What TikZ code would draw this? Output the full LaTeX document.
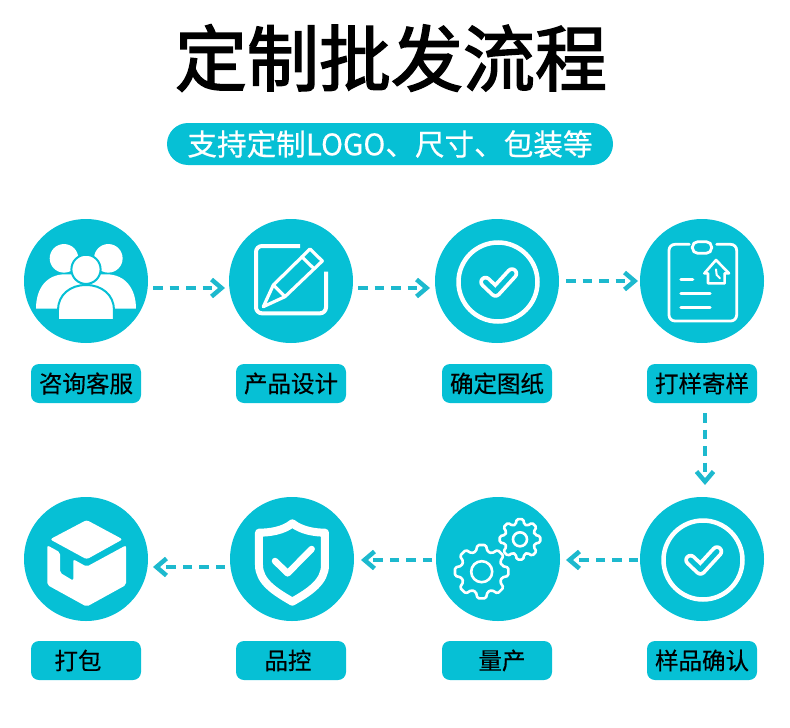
\documentclass[tikz,border=0pt]{standalone}
\usepackage{fontspec}
\usetikzlibrary{arrows.meta}
\setmainfont{Noto Sans CJK SC}
\newfontfamily\titlefont[FakeBold=2.2]{Noto Sans CJK SC}
\newfontfamily\subfont[FakeBold=0.5]{Noto Sans CJK SC}
\newfontfamily\labelfont[FakeBold=0.35]{Noto Sans CJK SC}
\definecolor{brand}{HTML}{06C0D5}
\definecolor{flowc}{HTML}{1DB9CE}
\tikzset{
  circ/.style={circle,fill=brand,minimum size=124pt,inner sep=0pt,outer sep=0pt},
  pill/.style={rectangle,fill=brand,rounded corners=8pt,minimum width=110pt,minimum height=39pt,inner sep=0pt,outer sep=0pt,text=black,font=\labelfont\fontsize{23.5pt}{26pt}\selectfont},
  flow/.style={draw=flowc,line width=3.4pt,dash pattern=on 9.5pt off 7pt,-{Straight Barb[length=10pt,width=17pt,line width=4.5pt,color=flowc]}},
  zoomed/.style={x=0.33333pt,y=-0.33333pt},
  wline/.style={draw=white,line width=#1,line cap=round,line join=round},
}
\newcommand{\ringcheck}{%
  \draw[white,line width=4.5pt] (1,1) circle[radius=39.5pt];
  \draw[wline=12.5pt] (-11.5,1) -- (-1.5,10.5) -- (15,-7.5);
  \draw[brand,line width=5pt,line cap=round,line join=round] (-11.5,1) -- (-1.5,10.5) -- (15,-7.5);
}
\newcommand{\gearpath}[4]{% cx cy root tip
  \draw[wline=2.6pt,rounded corners=1.5pt,fill=none,shift={(#1,#2)}]
    (-16:#3) \foreach \a in {0,45,...,315} { -- ({\a-16}:#3) -- ({\a-9}:#4) -- ({\a+9}:#4) -- ({\a+16}:#3) } -- cycle;
}
\begin{document}
\begin{tikzpicture}[x=1pt,y=-1pt]
\useasboundingbox (0,0) rectangle (790,728);
% title
\node[font=\titlefont\fontsize{72pt}{80pt}\selectfont,text=black,inner sep=0pt] (title) at (391,58) {定制批发流程};
\node[fill=brand,rounded corners=21pt,minimum width=446pt,minimum height=42pt,inner sep=0pt,text=white,font=\subfont\fontsize{29.6pt}{32pt}\selectfont] (sub) at (390,144) {\raisebox{-1.5pt}{支持定制LOGO、尺寸、包装等}};
% circles
\node[circ] (c1) at (86,281) {};
\node[circ] (c2) at (291,281) {};
\node[circ] (c3) at (497,281) {};
\node[circ] (c4) at (702,281) {};
\node[circ] (c5) at (86,559) {};
\node[circ] (c6) at (292,559) {};
\node[circ] (c7) at (498,559) {};
\node[circ] (c8) at (702,559) {};
% pills
\node[pill] (p1) at (86,383.5) {\raisebox{1.5pt}{咨询客服}};
\node[pill] (p2) at (291,383.5) {\raisebox{1.5pt}{产品设计}};
\node[pill] (p3) at (497,383.5) {\raisebox{1.5pt}{确定图纸}};
\node[pill] (p4) at (702,383.5) {\raisebox{1.5pt}{打样寄样}};
\node[pill] (p5) at (86,660.5) {打包\kern16pt};
\node[pill] (p6) at (291,660.5) {品控\kern6pt};
\node[pill] (p7) at (497,660.5) {\kern10pt量产};
\node[pill] (p8) at (702,660.5) {样品确认};
% connectors
\draw[flow,shorten <=5pt,shorten >=4pt] ([yshift=-7pt]c1.east) -- ([yshift=-7pt]c2.west);
\draw[flow,shorten <=5pt,shorten >=5pt] ([yshift=-7pt]c2.east) -- ([yshift=-7pt]c3.west);
\draw[flow,shorten <=7pt,shorten >=2pt] (c3.east) -- (c4.west);
\draw[flow,shorten <=10pt,shorten >=12pt] ([xshift=3pt]p4.south) -- ([xshift=3pt]c8.north);
\draw[flow,shorten <=2pt,shorten >=6pt] ([yshift=-1pt]c8.west) -- ([yshift=-1pt]c7.east);
\draw[flow,shorten <=4pt,shorten >=7pt] ([yshift=-1pt]c7.west) -- ([yshift=-1pt]c6.east);
\draw[flow,shorten <=5pt,shorten >=5pt] ([yshift=-8pt]c6.west) -- ([yshift=-8pt]c5.east);
% icon 1: people
\begin{scope}[shift={(10,205)},zoomed]
  \fill[white] (162,160) circle[radius=14.3pt];
  \fill[white] (295,160) circle[radius=14.3pt];
  \fill[white] (78,311) .. controls (78,250) and (110,208) .. (165,208) -- (290,208) .. controls (345,208) and (378,250) .. (378,311) -- cycle;
  \draw[brand,line width=2pt,fill=white] (144,345) -- (144,315) .. controls (144,270) and (180,240) .. (228,240) .. controls (276,240) and (312,270) .. (312,315) -- (312,345) -- cycle;
  \draw[brand,line width=2pt,fill=white] (228,193) circle[radius=14.6pt];
\end{scope}
% icon 2: pencil
\begin{scope}[shift={(245,235)},zoomed]
  \draw[white,line width=4pt,rounded corners=6pt] (165,33) -- (33,33) -- (33,235) -- (243,235) -- (243,110);
  \draw[wline=3.2pt] (55,215) -- (85,150) -- (195,42) -- (232,78) -- (120,185) -- cycle;
  \draw[wline=3.2pt] (85,150) -- (120,185);
  \draw[wline=3.2pt] (170,65) -- (208,102);
\end{scope}
% icon 3: ring check
\begin{scope}[shift={(c3.center)}]\ringcheck\end{scope}
% icon 4: clipboard
\begin{scope}[shift={(655,235)},zoomed]
  \draw[white,line width=2.8pt,rounded corners=6pt,line cap=round] (103,28) -- (42,28) -- (42,258) -- (245,258) -- (245,28) -- (185,28);
  \draw[white,line width=2.8pt,rounded corners=5.5pt] (112,20) rectangle (170,55);
  \draw[wline=3.4pt] (78,133) -- (113,133);
  \draw[wline=3.4pt] (78,175) -- (165,175);
  \draw[wline=3.4pt] (78,218) -- (165,218);
  \draw[wline=2.6pt] (183,75) -- (222,115) -- (209,115) -- (209,145) -- (159,145) -- (159,115) -- (148,115) -- cycle;
  \draw[wline=2pt] (183,103) -- (185,120) -- (195,130);
\end{scope}
% icon 5: box
\begin{scope}[shift={(40,510)},zoomed]
  \fill[white,rounded corners=2.5pt] (140,30) -- (248,88) -- (140,148) -- (30,88) -- cycle;
  \fill[white,rounded corners=2pt] (22,106) -- (60,127) -- (60,188) -- (100,212) -- (100,148) -- (140,170) -- (258,106) -- (258,225) -- (140,290) -- (22,225) -- cycle;
\end{scope}
% icon 6: shield
\begin{scope}[shift={(10,490)},zoomed]
  \draw[white,line width=8pt,line join=round] (847,100) .. controls (875,122) and (915,128) .. (945,128) -- (945,225) .. controls (945,275) and (900,305) .. (847,335) .. controls (795,305) and (747,275) .. (747,225) -- (747,128) .. controls (780,128) and (820,122) .. (847,100) -- cycle;
  \draw[wline=6.5pt] (795,213) -- (833,250) -- (905,177);
\end{scope}
% icon 7: gears
\gearpath{481.7}{571.7}{21}{27}
\draw[white,line width=2.6pt] (481.7,571.7) circle[radius=10.5pt];
\gearpath{520}{539.3}{15.5}{20.5}
\draw[white,line width=2.6pt] (520,539.3) circle[radius=7pt];
% icon 8: ring check
\begin{scope}[shift={(c8.center)}]\ringcheck\end{scope}
\end{tikzpicture}
\end{document}
